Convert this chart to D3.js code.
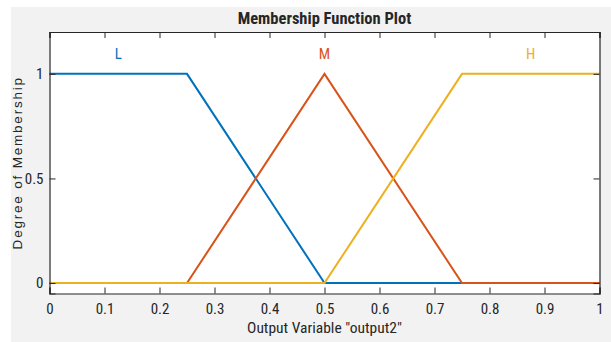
<!DOCTYPE html>
<html><head><meta charset="utf-8">
<script src="https://cdn.jsdelivr.net/npm/d3@7"></script>
<style>
html,body{margin:0;padding:0;background:#fff;}
svg{display:block;}
.cond{font-family:"Liberation Sans Narrow","Roboto Condensed","Arial Narrow",Arial,sans-serif;}
</style>
</head><body>
<svg id="c" width="611" height="342"></svg>
<script>
const xTicks = [0,0.1,0.2,0.3,0.4,0.5,0.6,0.7,0.8,0.9,1];
const yTicks = [0,0.5,1];
const mfNames = ["L","M","H"];
const mfColors = ["#0072BD","#D95319","#EDB120"];
const mfX = [[0,0.25,0.5,1],[0,0.25,0.5,0.75,1],[0,0.5,0.75,1]];
const mfY = [[1,1,0,0],[0,0,1,0,0],[0,0,1,1]];
const labelX = [0.125,0.5,0.875];
const labelY = 1.1;

const svg = d3.select("#c");
svg.append("rect").attr("x",11).attr("y",7).attr("width",600).attr("height",335).attr("fill","#f2f2f2");
const L=49.5,R=599.5,T=32,B=293.5;
const x = d3.scaleLinear().domain([0,1]).range([L,R]);
const y = d3.scaleLinear().domain([-0.05,1.2]).range([B,T]);
svg.append("rect").attr("x",L).attr("y",T).attr("width",R-L).attr("height",B-T).attr("fill","#fff");

const line = d3.line().x(d=>x(d[0])).y(d=>y(d[1]));
mfNames.forEach((n,i)=>{
  const pts = mfX[i].map((v,j)=>[v,mfY[i][j]]);
  svg.append("path").attr("d",line(pts)).attr("fill","none").attr("stroke",mfColors[i]).attr("stroke-width",2);
  svg.append("text").attr("class","cond").attr("x",x(labelX[i])).attr("y",y(labelY)+6)
    .attr("text-anchor","middle").attr("fill",mfColors[i]).attr("font-size",15).text(n);
});

const gx = svg.append("g").attr("transform",`translate(0,${B})`)
  .call(d3.axisBottom(x).tickValues(xTicks).tickFormat(d=>String(d)).tickSize(-6).tickPadding(10));
const gxt = svg.append("g").attr("transform",`translate(0,${T})`)
  .call(d3.axisTop(x).tickValues(xTicks).tickFormat("").tickSize(-6));
const gy = svg.append("g").attr("transform",`translate(${L},0)`)
  .call(d3.axisLeft(y).tickValues(yTicks).tickFormat(d=>String(d)).tickSize(-6).tickPadding(6));
const gyr = svg.append("g").attr("transform",`translate(${R},0)`)
  .call(d3.axisRight(y).tickValues(yTicks).tickFormat("").tickSize(-6));
[gx,gxt,gy,gyr].forEach(g=>{
  g.select(".domain").attr("stroke","#262626").attr("stroke-width",1.2);
  g.selectAll(".tick line").attr("stroke","#262626");
  g.selectAll("text").attr("class","cond").attr("fill","#262626").attr("font-size",15);
});
gx.selectAll(".tick text").attr("dy","0.71em");

svg.append("text").attr("class","cond").attr("x",(L+R)/2).attr("y",24).attr("text-anchor","middle")
  .attr("font-size",16.5).attr("font-weight","bold").attr("fill","#262626").text("Membership Function Plot");
svg.append("text").attr("class","cond").attr("x",(L+R)/2).attr("y",333).attr("text-anchor","middle")
  .attr("font-size",15.5).attr("fill","#262626").text('Output Variable "output2"');
svg.append("text").attr("transform",`translate(22,${(T+B)/2}) rotate(-90)`).attr("text-anchor","middle")
  .attr("font-family","'Liberation Sans', Arial, sans-serif").attr("font-size",13.5).attr("letter-spacing","1.8")
  .attr("fill","#262626").text("Degree of Membership");
</script>
</body></html>
